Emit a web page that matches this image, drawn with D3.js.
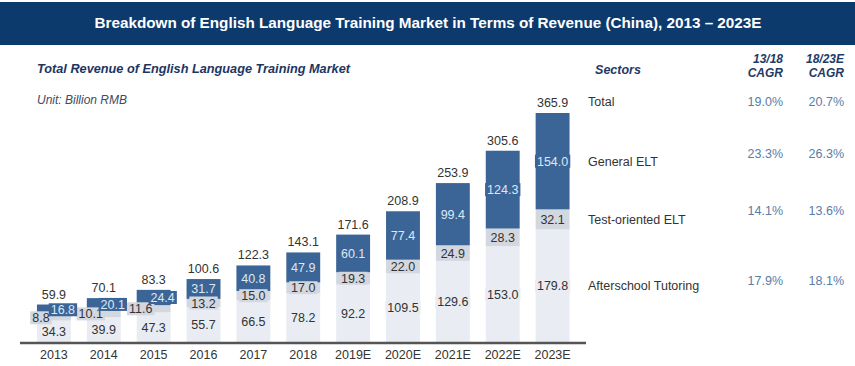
<!DOCTYPE html>
<html><head><meta charset="utf-8">
<script src="https://cdn.jsdelivr.net/npm/d3@7/dist/d3.min.js"></script>
<style>body{margin:0;background:#fff}svg{display:block;font-family:"Liberation Sans",Arial,sans-serif}</style>
</head><body><svg id="c" width="855" height="366"></svg>
<script>
const years = ['2013','2014','2015','2016','2017','2018','2019E','2020E','2021E','2022E','2023E'];
const afterschool = [34.3,39.9,47.3,55.7,66.5,78.2,92.2,109.5,129.6,153.0,179.8];
const testOriented = [8.8,10.1,11.6,13.2,15.0,17.0,19.3,22.0,24.9,28.3,32.1];
const generalELT = [16.8,20.1,24.4,31.7,40.8,47.9,60.1,77.4,99.4,124.3,154.0];
const totals = [59.9,70.1,83.3,100.6,122.3,143.1,171.6,208.9,253.9,305.6,365.9];
const sectors = ['Total','General ELT','Test-oriented ELT','Afterschool Tutoring'];
const cagr1318 = ['19.0%','23.3%','14.1%','17.9%'];
const cagr1823 = ['20.7%','26.3%','13.6%','18.1%'];
const title = 'Breakdown of English Language Training Market in Terms of Revenue (China), 2013 \u2013 2023E';

const svg = d3.select('#c');
const colors = {after:'#e9ecf2', test:'#d3d7df', gen:'#3c6597'};

// banner
svg.append('rect').attr('x',0).attr('y',2).attr('width',855).attr('height',43).attr('fill','#0d3a6c');
svg.append('text').attr('x',428).attr('y',28).attr('text-anchor','middle').attr('fill','#fff')
  .attr('font-size',15).attr('font-weight','bold').attr('textLength',667).attr('lengthAdjust','spacingAndGlyphs').text(title);

svg.append('text').attr('x',37).attr('y',73).attr('fill','#1c3562').attr('font-size',12.5)
  .attr('font-weight','bold').attr('font-style','italic').attr('textLength',313).attr('lengthAdjust','spacingAndGlyphs')
  .text('Total Revenue of English Language Training Market');
svg.append('text').attr('x',37).attr('y',104).attr('fill','#3d4a66').attr('font-size',12)
  .attr('font-style','italic').text('Unit: Billion RMB');

const x = d3.scaleBand().domain(years).range([21,585.5]).padding(0.32);
const y = d3.scaleLinear().domain([0,365.9]).range([342,113]);

const data = years.map((yr,i)=>({yr, total: totals[i], segs:[
  {key:'after', v:afterschool[i], y0:0, y1:afterschool[i]},
  {key:'test', v:testOriented[i], y0:afterschool[i], y1:afterschool[i]+testOriented[i]},
  {key:'gen', v:generalELT[i], y0:afterschool[i]+testOriented[i], y1:afterschool[i]+testOriented[i]+generalELT[i]}
]}));

const bars = svg.append('g');
data.forEach(d=>{
  d.segs.forEach(s=>{
    bars.append('rect').attr('x',x(d.yr)).attr('width',x.bandwidth())
      .attr('y',y(s.y1)).attr('height',y(s.y0)-y(s.y1)).attr('fill',colors[s.key]);
  });
});

const labels = svg.append('g').attr('font-size',12.5);
['after','test','gen'].forEach(key=>{
  data.forEach(d=>{
    const s = d.segs.find(q=>q.key===key);
    const short = d.total < 90;
    let dx = 0;
    if (short && key==='gen') dx = 9;
    if (short && key==='test') dx = -13;
    const cx = x(d.yr)+x.bandwidth()/2+dx;
    const cy = (y(s.y0)+y(s.y1))/2;
    const g = labels.append('g');
    const bg = g.append('rect').attr('fill',colors[key]);
    const t = g.append('text').attr('x',cx).attr('y',cy).attr('dy','0.36em').attr('text-anchor','middle')
      .attr('fill', key==='gen' ? '#dde7f5' : '#333').text(s.v.toFixed(1));
    const bb = t.node().getBBox();
    bg.attr('x',bb.x-2).attr('y',bb.y).attr('width',bb.width+4).attr('height',bb.height-1);
  });
});

// totals
svg.append('g').selectAll('text').data(data).join('text')
  .attr('x',d=>x(d.yr)+x.bandwidth()/2).attr('y',d=>y(d.total)-6).attr('text-anchor','middle')
  .attr('font-size',12.5).attr('fill','#333').text(d=>d.total.toFixed(1));

// axis
const axis = d3.axisBottom(x).tickSize(0).tickPadding(7);
const ag = svg.append('g').attr('transform','translate(0,343)').call(axis);
ag.select('.domain').attr('stroke','#555').attr('stroke-width',2.5).attr('d','M20,0H586');
ag.selectAll('text').attr('font-size',12.5).attr('fill','#333').attr('font-family','"Liberation Sans",Arial,sans-serif');

// right table
const hdr = '#1f3a66';
svg.append('text').attr('x',618).attr('y',74).attr('text-anchor','middle').attr('fill',hdr)
  .attr('font-size',12.5).attr('font-weight','bold').attr('font-style','italic').text('Sectors');
[['13/18','CAGR',783],['18/23E','CAGR',844]].forEach(h=>{
  svg.append('text').attr('x',h[2]).attr('y',63).attr('text-anchor','end').attr('fill',hdr)
    .attr('font-size',12).attr('font-weight','bold').attr('font-style','italic').text(h[0]);
  svg.append('text').attr('x',h[2]).attr('y',77).attr('text-anchor','end').attr('fill',hdr)
    .attr('font-size',12).attr('font-weight','bold').attr('font-style','italic').text(h[1]);
});
const last = data[data.length-1];
const rowY = [y(last.total)-12, (y(last.segs[2].y0)+y(last.segs[2].y1))/2,
  (y(last.segs[1].y0)+y(last.segs[1].y1))/2, (y(last.segs[0].y0)+y(last.segs[0].y1))/2];
const valOff = [0,-8,-9,-5];
sectors.forEach((s,i)=>{
  svg.append('text').attr('x',588).attr('y',rowY[i]).attr('dy','0.36em').attr('fill','#333')
    .attr('font-size',12.5).text(s);
  svg.append('text').attr('x',783).attr('y',rowY[i]+valOff[i]).attr('dy','0.36em').attr('text-anchor','end')
    .attr('fill','#5a7ca6').attr('font-size',12.5).text(cagr1318[i]);
  svg.append('text').attr('x',844).attr('y',rowY[i]+valOff[i]).attr('dy','0.36em').attr('text-anchor','end')
    .attr('fill','#5a7ca6').attr('font-size',12.5).text(cagr1823[i]);
});
</script></body></html>
